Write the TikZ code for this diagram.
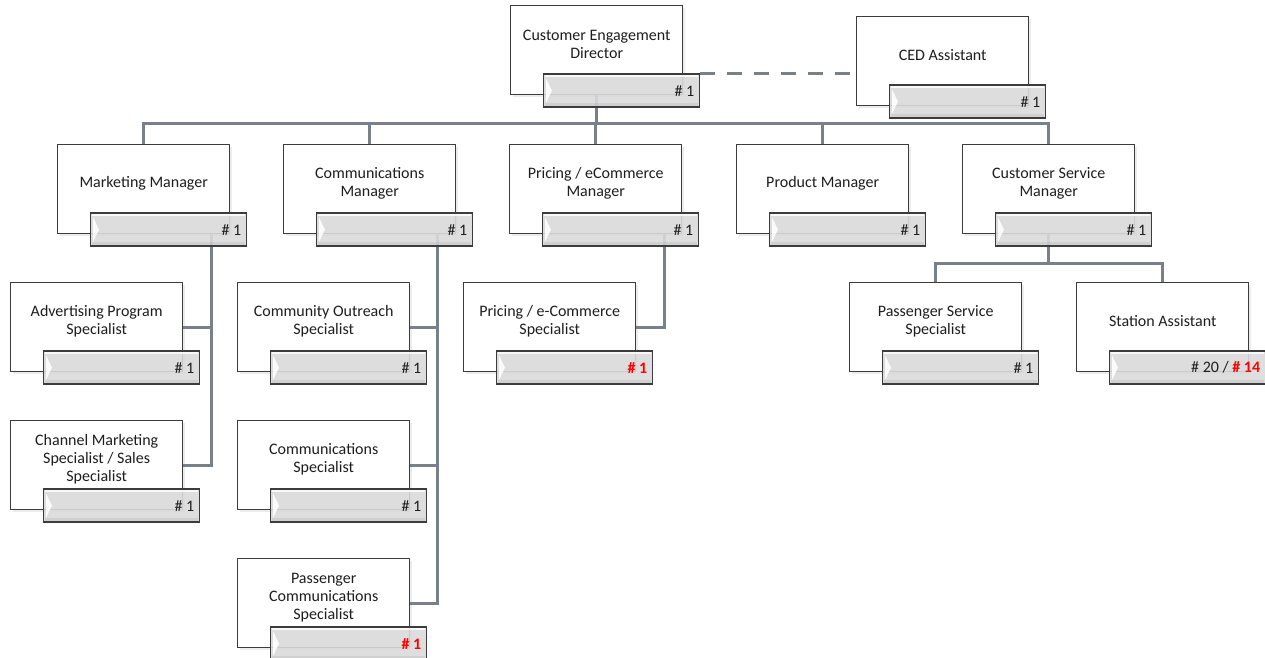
\documentclass[tikz,border=0pt]{standalone}
\usepackage{fontspec}
\setmainfont{Carlito}
\usetikzlibrary{shadows}
\pgfdeclarelayer{background}
\pgfsetlayers{background,main}

\definecolor{linegray}{HTML}{7A808A}
\definecolor{edgegray}{HTML}{3C3C3C}
\definecolor{bargray}{HTML}{DADADA}
\definecolor{txt}{HTML}{1E1E1E}
\definecolor{alert}{HTML}{FF0000}

\tikzset{
  posbox/.style={draw=edgegray, line width=1.4pt, fill=white,
    minimum width=172pt, minimum height=89pt, inner sep=0pt, anchor=north west,
    drop shadow={shadow xshift=2pt, shadow yshift=-2pt, opacity=0.15}},
  postext/.style={font=\fontsize{16}{18}\selectfont, text=txt, align=center, inner sep=0pt},
  countbar/.style={draw=edgegray, line width=1.4pt, fill=bargray, fill opacity=0.9,
    minimum width=156pt, minimum height=33pt, inner sep=0pt, anchor=north west},
  counttext/.style={font=\fontsize{16}{18}\selectfont, text=txt, inner sep=0pt, anchor=east},
  link/.style={draw=linegray, line width=3pt},
  assistlink/.style={link, dash pattern=on 15pt off 12pt},
}

% one position: name, x, y, title, head count
\newcommand\orgpos[5]{%
  \node[posbox] (#1) at (#2,#3) {};
  \node[postext] (#1-t) at ([yshift=6pt]#1.center) {#4};
  \node[countbar] (#1-b) at ([xshift=33pt,yshift=22pt]#1.south west) {};
  % bevel: light top edge, slightly darker bottom band
  \draw[white, opacity=0.8, line width=1.5pt]
    ([shift={(2pt,-2.5pt)}]#1-b.north west) -- ([shift={(-2pt,-2.5pt)}]#1-b.north east);
  \draw[black, opacity=0.06, line width=3pt]
    ([shift={(2pt,3pt)}]#1-b.south west) -- ([shift={(-2pt,3pt)}]#1-b.south east);
  \fill[white, opacity=0.9] ([shift={(3pt,-5pt)}]#1-b.north west) -- ([xshift=9pt]#1-b.west)
    -- ([shift={(3pt,5pt)}]#1-b.south west) -- cycle;
  \node[counttext] (#1-c) at ([xshift=-6pt]#1-b.east) {#5};
}
\newcommand\alertcount[1]{\textcolor{alert}{\textbf{#1}}}

\begin{document}
\begin{tikzpicture}[x=1pt, y=-1pt]
\useasboundingbox (0,0) rectangle (1265,657);

\orgpos{ced}{510}{5}{Customer Engagement\\Director}{\# 1}
\orgpos{ceda}{856}{16}{CED Assistant}{\# 1}

\orgpos{mm}{57}{144}{Marketing Manager}{\# 1}
\orgpos{cm}{283}{144}{Communications\\Manager}{\# 1}
\orgpos{pm}{509}{144}{Pricing / eCommerce\\Manager}{\# 1}
\orgpos{prm}{736}{144}{Product Manager}{\# 1}
\orgpos{csm}{962}{144}{Customer Service\\Manager}{\# 1}

\orgpos{aps}{10}{282}{Advertising Program\\Specialist}{\# 1}
\orgpos{cms}{10}{420}{Channel Marketing\\Specialist / Sales\\Specialist}{\# 1}

\orgpos{cos}{237}{282}{Community Outreach\\Specialist}{\# 1}
\orgpos{cs}{237}{420}{Communications\\Specialist}{\# 1}
\orgpos{pcs}{237}{558}{Passenger\\Communications\\Specialist}{\alertcount{\# 1}}

\orgpos{pes}{463}{282}{Pricing / e-Commerce\\Specialist}{\alertcount{\# 1}}

\orgpos{pss}{849}{282}{Passenger Service\\Specialist}{\# 1}
\orgpos{sa}{1076}{282}{Station Assistant}{\# 20 / \alertcount{\# 14}}

\begin{pgfonlayer}{background}
  \coordinate (bus) at (596,123);
  \coordinate (csbus) at (1048,263);
  \coordinate (mm-j) at ([xshift=-19pt]mm.south east);
  \coordinate (cm-j) at ([xshift=-19pt]cm.south east);
  \coordinate (pm-j) at ([xshift=-18pt]pm.south east);

  % director to managers
  \draw[link] (ced.south) -- (ced.south |- bus);
  \draw[link] (mm.north) -- (mm.north |- bus) -- (csm.north |- bus) -- (csm.north);
  \draw[link] (cm.north |- bus) -- (cm.north);
  \draw[link] (pm.north |- bus) -- (pm.north);
  \draw[link] (prm.north |- bus) -- (prm.north);

  % assistant
  \draw[assistlink] (ced-b.north east) -- (ced-b.north east -| ceda.west);

  % marketing
  \draw[link] (mm-j) -- (mm-j |- cms.east) -- (cms.east);
  \draw[link] (aps.east) -- (aps.east -| mm-j);

  % communications
  \draw[link] (cm-j) -- (cm-j |- pcs.east) -- (pcs.east);
  \draw[link] (cos.east) -- (cos.east -| cm-j);
  \draw[link] (cs.east) -- (cs.east -| cm-j);

  % pricing
  \draw[link] (pm-j) -- (pm-j |- pes.east) -- (pes.east);

  % customer service
  \draw[link] (csm.south) -- (csm.south |- csbus);
  \draw[link] (pss.north) -- (pss.north |- csbus) -- (sa.north |- csbus) -- (sa.north);
\end{pgfonlayer}
\end{tikzpicture}
\end{document}
